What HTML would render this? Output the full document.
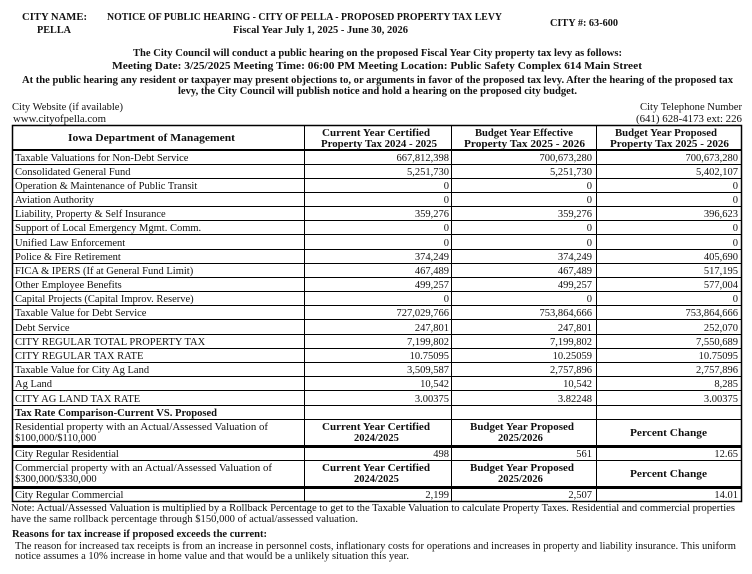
<!DOCTYPE html>
<html><head><meta charset="utf-8"><style>
html,body{margin:0;padding:0;background:#fff;}
svg{display:block;font-family:"Liberation Serif",serif;}
.b{font-weight:bold;}
text{font-size:11px;fill:#111;}
.s{font-size:10.5px;}
line,rect{stroke:#000;}
</style></head><body>
<svg width="752" height="574" viewBox="0 0 752 574" xmlns="http://www.w3.org/2000/svg">
<!-- header -->
<text class="b" x="22" y="20" textLength="65" lengthAdjust="spacingAndGlyphs">CITY NAME:</text>
<text class="b" x="37" y="33" textLength="34" lengthAdjust="spacingAndGlyphs">PELLA</text>
<text class="b" x="107" y="20" textLength="395" lengthAdjust="spacingAndGlyphs">NOTICE OF PUBLIC HEARING - CITY OF PELLA - PROPOSED PROPERTY TAX LEVY</text>
<text class="b" x="233" y="33" textLength="175" lengthAdjust="spacingAndGlyphs">Fiscal Year July 1, 2025 - June 30, 2026</text>
<text class="b" x="550" y="26" textLength="68" lengthAdjust="spacingAndGlyphs">CITY #: 63-600</text>
<text class="b" x="133" y="56" textLength="489" lengthAdjust="spacingAndGlyphs">The City Council will conduct a public hearing on the proposed Fiscal Year City property tax levy as follows:</text>
<text class="b" x="112" y="69" textLength="530" lengthAdjust="spacingAndGlyphs">Meeting Date:   3/25/2025   Meeting Time:   06:00 PM   Meeting Location:   Public Safety Complex 614 Main Street</text>
<text class="b" x="22" y="83" textLength="711" lengthAdjust="spacingAndGlyphs">At the public hearing any resident or taxpayer may present objections to, or arguments in favor of the proposed tax levy. After the hearing of the proposed tax</text>
<text class="b" x="178" y="94" textLength="399" lengthAdjust="spacingAndGlyphs">levy, the City Council will publish notice and hold a hearing on the proposed city budget.</text>
<text class="s" x="12" y="110" textLength="111" lengthAdjust="spacingAndGlyphs">City Website (if available)</text>
<text class="s" x="13" y="122" textLength="93" lengthAdjust="spacingAndGlyphs">www.cityofpella.com</text>
<text class="s" x="640" y="110" textLength="102" lengthAdjust="spacingAndGlyphs">City Telephone Number</text>
<text class="s" x="636" y="122" textLength="106" lengthAdjust="spacingAndGlyphs">(641) 628-4173 ext: 226</text>

<!-- table frame -->
<rect x="12.5" y="125.5" width="729" height="376" fill="none" stroke-width="1.5"/>
<line x1="12" y1="150" x2="742" y2="150" stroke-width="2"/>
<line x1="304.5" y1="125" x2="304.5" y2="502"/>
<line x1="451.5" y1="125" x2="451.5" y2="502"/>
<line x1="596.5" y1="125" x2="596.5" y2="502"/>
<g stroke-width="1">
<line x1="12" y1="164.5" x2="742" y2="164.5"/>
<line x1="12" y1="178.5" x2="742" y2="178.5"/>
<line x1="12" y1="192.5" x2="742" y2="192.5"/>
<line x1="12" y1="206.5" x2="742" y2="206.5"/>
<line x1="12" y1="220.5" x2="742" y2="220.5"/>
<line x1="12" y1="234.5" x2="742" y2="234.5"/>
<line x1="12" y1="249.5" x2="742" y2="249.5"/>
<line x1="12" y1="263.5" x2="742" y2="263.5"/>
<line x1="12" y1="277.5" x2="742" y2="277.5"/>
<line x1="12" y1="291.5" x2="742" y2="291.5"/>
<line x1="12" y1="305.5" x2="742" y2="305.5"/>
<line x1="12" y1="319.5" x2="742" y2="319.5"/>
<line x1="12" y1="334.5" x2="742" y2="334.5"/>
<line x1="12" y1="348.5" x2="742" y2="348.5"/>
<line x1="12" y1="362.5" x2="742" y2="362.5"/>
<line x1="12" y1="376.5" x2="742" y2="376.5"/>
<line x1="12" y1="390.5" x2="742" y2="390.5"/>
<line x1="12" y1="405.5" x2="742" y2="405.5"/>
<line x1="12" y1="419.5" x2="742" y2="419.5"/>
<line x1="12" y1="460.5" x2="742" y2="460.5"/>
</g>
<line x1="12" y1="446.5" x2="742" y2="446.5" stroke-width="3"/>
<line x1="12" y1="487.5" x2="742" y2="487.5" stroke-width="3"/>

<!-- header row -->
<text class="b" x="68" y="141" textLength="167" lengthAdjust="spacingAndGlyphs">Iowa Department of Management</text>
<text class="b" x="322" y="136" textLength="108" lengthAdjust="spacingAndGlyphs">Current Year   Certified</text>
<text class="b" x="321" y="147" textLength="116" lengthAdjust="spacingAndGlyphs">Property Tax  2024 - 2025</text>
<text class="b" x="475" y="136" textLength="98" lengthAdjust="spacingAndGlyphs">Budget Year  Effective</text>
<text class="b" x="464" y="147" textLength="121" lengthAdjust="spacingAndGlyphs">Property  Tax   2025 - 2026</text>
<text class="b" x="615" y="136" textLength="102" lengthAdjust="spacingAndGlyphs">Budget Year  Proposed</text>
<text class="b" x="610" y="147" textLength="119" lengthAdjust="spacingAndGlyphs">Property Tax   2025 - 2026</text>

<!-- data rows -->
<g class="s">
<text class="s" x="15" y="161">Taxable Valuations for Non-Debt Service</text>
<text class="s" x="15" y="175">Consolidated General Fund</text>
<text class="s" x="15" y="189">Operation &amp; Maintenance of Public Transit</text>
<text class="s" x="15" y="203">Aviation Authority</text>
<text class="s" x="15" y="217">Liability, Property &amp; Self Insurance</text>
<text class="s" x="15" y="231">Support of Local Emergency Mgmt. Comm.</text>
<text class="s" x="15" y="246">Unified Law Enforcement</text>
<text class="s" x="15" y="260">Police &amp; Fire Retirement</text>
<text class="s" x="15" y="274">FICA &amp; IPERS (If at General Fund Limit)</text>
<text class="s" x="15" y="288">Other Employee Benefits</text>
<text class="s" x="15" y="302">Capital Projects (Capital Improv. Reserve)</text>
<text class="s" x="15" y="316">Taxable Value for Debt Service</text>
<text class="s" x="15" y="331">Debt Service</text>
<text class="s" x="15" y="345">CITY REGULAR TOTAL PROPERTY TAX</text>
<text class="s" x="15" y="359">CITY REGULAR TAX RATE</text>
<text class="s" x="15" y="373">Taxable Value for City Ag Land</text>
<text class="s" x="15" y="387">Ag Land</text>
<text class="s" x="15" y="402">CITY AG LAND TAX RATE</text>
</g>
<g text-anchor="end">
<text class="s" x="449" y="161">667,812,398</text><text class="s" x="592" y="161">700,673,280</text><text class="s" x="738" y="161">700,673,280</text>
<text class="s" x="449" y="175">5,251,730</text><text class="s" x="592" y="175">5,251,730</text><text class="s" x="738" y="175">5,402,107</text>
<text class="s" x="449" y="189">0</text><text class="s" x="592" y="189">0</text><text class="s" x="738" y="189">0</text>
<text class="s" x="449" y="203">0</text><text class="s" x="592" y="203">0</text><text class="s" x="738" y="203">0</text>
<text class="s" x="449" y="217">359,276</text><text class="s" x="592" y="217">359,276</text><text class="s" x="738" y="217">396,623</text>
<text class="s" x="449" y="231">0</text><text class="s" x="592" y="231">0</text><text class="s" x="738" y="231">0</text>
<text class="s" x="449" y="246">0</text><text class="s" x="592" y="246">0</text><text class="s" x="738" y="246">0</text>
<text class="s" x="449" y="260">374,249</text><text class="s" x="592" y="260">374,249</text><text class="s" x="738" y="260">405,690</text>
<text class="s" x="449" y="274">467,489</text><text class="s" x="592" y="274">467,489</text><text class="s" x="738" y="274">517,195</text>
<text class="s" x="449" y="288">499,257</text><text class="s" x="592" y="288">499,257</text><text class="s" x="738" y="288">577,004</text>
<text class="s" x="449" y="302">0</text><text class="s" x="592" y="302">0</text><text class="s" x="738" y="302">0</text>
<text class="s" x="449" y="316">727,029,766</text><text class="s" x="592" y="316">753,864,666</text><text class="s" x="738" y="316">753,864,666</text>
<text class="s" x="449" y="331">247,801</text><text class="s" x="592" y="331">247,801</text><text class="s" x="738" y="331">252,070</text>
<text class="s" x="449" y="345">7,199,802</text><text class="s" x="592" y="345">7,199,802</text><text class="s" x="738" y="345">7,550,689</text>
<text class="s" x="449" y="359">10.75095</text><text class="s" x="592" y="359">10.25059</text><text class="s" x="738" y="359">10.75095</text>
<text class="s" x="449" y="373">3,509,587</text><text class="s" x="592" y="373">2,757,896</text><text class="s" x="738" y="373">2,757,896</text>
<text class="s" x="449" y="387">10,542</text><text class="s" x="592" y="387">10,542</text><text class="s" x="738" y="387">8,285</text>
<text class="s" x="449" y="402">3.00375</text><text class="s" x="592" y="402">3.82248</text><text class="s" x="738" y="402">3.00375</text>
</g>

<!-- comparison -->
<text class="b s" x="15" y="416" textLength="202" lengthAdjust="spacingAndGlyphs">Tax Rate Comparison-Current VS. Proposed</text>
<text class="s" x="15" y="430" textLength="253" lengthAdjust="spacingAndGlyphs">Residential property with an   Actual/Assessed Valuation of</text>
<text class="s" x="15" y="441">$100,000/$110,000</text>
<text class="b s" x="322" y="430" textLength="108" lengthAdjust="spacingAndGlyphs">Current Year   Certified</text>
<text class="b s" x="354" y="441">2024/2025</text>
<text class="b s" x="470" y="430" textLength="104" lengthAdjust="spacingAndGlyphs">Budget Year   Proposed</text>
<text class="b s" x="498" y="441">2025/2026</text>
<text class="b s" x="630" y="436" textLength="77" lengthAdjust="spacingAndGlyphs">Percent   Change</text>
<text class="s" x="15" y="457">City Regular Residential</text>
<text class="s" x="449" y="457" text-anchor="end">498</text>
<text class="s" x="592" y="457" text-anchor="end">561</text>
<text class="s" x="738" y="457" text-anchor="end">12.65</text>

<text class="s" x="15" y="471" textLength="257" lengthAdjust="spacingAndGlyphs">Commercial property with an   Actual/Assessed Valuation of</text>
<text class="s" x="15" y="482">$300,000/$330,000</text>
<text class="b s" x="322" y="471" textLength="108" lengthAdjust="spacingAndGlyphs">Current Year   Certified</text>
<text class="b s" x="354" y="482">2024/2025</text>
<text class="b s" x="470" y="471" textLength="104" lengthAdjust="spacingAndGlyphs">Budget Year   Proposed</text>
<text class="b s" x="498" y="482">2025/2026</text>
<text class="b s" x="630" y="477" textLength="77" lengthAdjust="spacingAndGlyphs">Percent   Change</text>
<text class="s" x="15" y="498">City Regular Commercial</text>
<text class="s" x="449" y="498" text-anchor="end">2,199</text>
<text class="s" x="592" y="498" text-anchor="end">2,507</text>
<text class="s" x="738" y="498" text-anchor="end">14.01</text>

<!-- notes -->
<text class="s" x="11" y="511" textLength="724" lengthAdjust="spacingAndGlyphs">Note: Actual/Assessed Valuation is multiplied by a Rollback Percentage to get to the Taxable Valuation to calculate Property Taxes. Residential and commercial properties</text>
<text class="s" x="11" y="522" textLength="347" lengthAdjust="spacingAndGlyphs">have the same rollback percentage through $150,000 of actual/assessed valuation.</text>
<text class="b s" x="12" y="537" textLength="255" lengthAdjust="spacingAndGlyphs">Reasons for tax increase if proposed exceeds the current:</text>
<text class="s" x="15" y="549" textLength="721" lengthAdjust="spacingAndGlyphs">The reason for increased tax receipts is from an increase in personnel costs, inflationary costs for operations and increases in property and liability insurance. This uniform</text>
<text class="s" x="15" y="559" textLength="394" lengthAdjust="spacingAndGlyphs">notice assumes a 10% increase in home value and that would be a unlikely situation this year.</text>
</svg>
</body></html>
